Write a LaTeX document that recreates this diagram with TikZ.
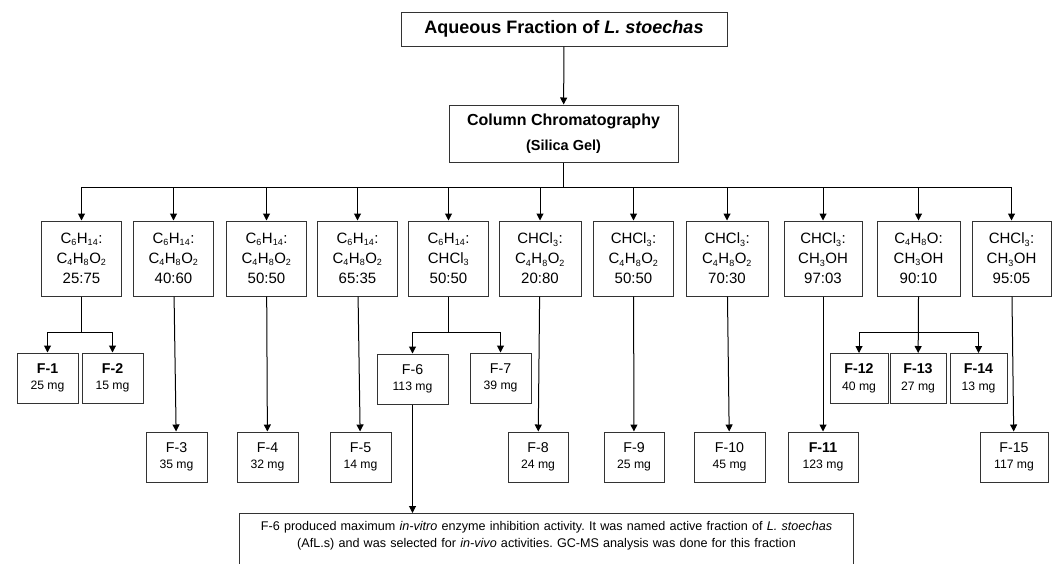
\documentclass[tikz,border=0pt]{standalone}
\usepackage{fontspec}
\setmainfont{Liberation Sans}
\usetikzlibrary{arrows.meta}
\frenchspacing
\newcommand{\chsub}[1]{\textsubscript{\fontsize{9}{9}\selectfont #1}}
\newcommand{\hexane}{C\chsub{6}H\chsub{14}}
\newcommand{\etac}{C\chsub{4}H\chsub{8}O\chsub{2}}
\newcommand{\chcl}{CHCl\chsub{3}}
\newcommand{\meoh}{CH\chsub{3}OH}
\newcommand{\thf}{C\chsub{4}H\chsub{8}O}
\newcommand{\amount}[1]{{\fontsize{12.2}{14}\selectfont #1}}

\begin{document}
\begin{tikzpicture}[x=1pt,y=-1pt,line width=1pt,
  arr/.style={-{Triangle[length=7pt,width=7pt]}},
  box/.style={draw=black!80, align=center, inner sep=2pt},
  solvent/.style={box, minimum width=80pt, minimum height=75pt, font=\fontsize{15}{20}\selectfont},
  frac/.style={box, minimum width=61pt, minimum height=50pt, font=\fontsize{14.2}{16.5}\selectfont}]
\useasboundingbox (0,0) rectangle (1056,563);

\node[box, minimum width=326pt, minimum height=34pt, font=\bfseries\fontsize{18}{20}\selectfont] (aq) at (564,29) {Aqueous Fraction of \textit{L. stoechas}};
\node[box, minimum width=229pt, minimum height=57pt, font=\bfseries\fontsize{16}{25}\selectfont] (cc) at (563.5,133.5) {Column Chromatography\\{\fontsize{14.5}{17}\selectfont (Silica Gel)}};

% solvent systems
\node[solvent] (s1) at (81.5,258.5) {\hexane:\\\etac\\25:75};
\node[solvent] (s2) at (173.5,258.5) {\hexane:\\\etac\\40:60};
\node[solvent] (s3) at (266.5,258.5) {\hexane:\\\etac\\50:50};
\node[solvent] (s4) at (357.5,258.5) {\hexane:\\\etac\\65:35};
\node[solvent] (s5) at (448.5,258.5) {\hexane:\\\chcl\\50:50};
\node[solvent, minimum width=82pt] (s6) at (540,258.5) {\chcl:\\\etac\\20:80};
\node[solvent] (s7) at (633.5,258.5) {\chcl:\\\etac\\50:50};
\node[solvent, minimum width=82pt] (s8) at (727,258.5) {\chcl:\\\etac\\70:30};
\node[solvent, minimum width=78pt] (s9) at (823,258.5) {\chcl:\\\meoh\\97:03};
\node[solvent, minimum width=83pt] (s10) at (918.5,258.5) {\thf:\\\meoh\\90:10};
\node[solvent, minimum width=79pt] (s11) at (1011.5,258.5) {\chcl:\\\meoh\\95:05};

% fractions
\node[frac] (f1) at (47.5,378) {\textbf{F-1}\\\amount{25 mg}};
\node[frac] (f2) at (112.5,378) {\textbf{F-2}\\\amount{15 mg}};
\node[frac] (f3) at (176.5,457) {F-3\\\amount{35 mg}};
\node[frac] (f4) at (267.5,457) {F-4\\\amount{32 mg}};
\node[frac] (f5) at (360.5,457) {F-5\\\amount{14 mg}};
\node[frac, minimum width=71pt] (f6) at (412.5,379) {F-6\\\amount{113 mg}};
\node[frac] (f7) at (500.5,378) {F-7\\\amount{39 mg}};
\node[frac, minimum width=60pt] (f8) at (538,457) {F-8\\\amount{24 mg}};
\node[frac, minimum width=60pt] (f9) at (634,457) {F-9\\\amount{25 mg}};
\node[frac, minimum width=71pt] (f10) at (729.5,457) {F-10\\\amount{45 mg}};
\node[frac, minimum width=70pt] (f11) at (823,457) {\textbf{F-11}\\\amount{123 mg}};
\node[frac, minimum width=58pt] (f12) at (859,378.5) {\textbf{F-12}\\\amount{40 mg}};
\node[frac, minimum width=56pt] (f13) at (918,378.5) {\textbf{F-13}\\\amount{27 mg}};
\node[frac, minimum width=57pt] (f14) at (978.5,378.5) {\textbf{F-14}\\\amount{13 mg}};
\node[frac, minimum width=68pt] (f15) at (1014,457) {F-15\\\amount{117 mg}};

\node[box, anchor=north, text width=610pt, inner ysep=8pt, text depth=30pt, font=\fontsize{12.6}{16.5}\selectfont] (note) at (546.5,513)
  {F-6 produced maximum \textit{in-vitro} enzyme inhibition activity. It was named active fraction of \textit{L. stoechas}\\(AfL.s) and was selected for \textit{in-vivo} activities. GC-MS analysis was done for this fraction};

\draw[arr] (aq) -- (cc);
\coordinate (bus) at (563.5,187);
\draw (cc) -- (bus);
\draw (s1 |- bus) -- (s11 |- bus);
\foreach \i in {1,...,11} \draw[arr] (s\i |- bus) -- (s\i);

\draw[arr] (s1.south) -- ++(0,36) -| (f1);
\draw[arr] (s1.south) -- ++(0,36) -| (f2);
\draw[arr] (s5.south) -- ++(0,36) -| (f6);
\draw[arr] (s5.south) -- ++(0,36) -| (f7);
\draw[arr] (s10.south) -- ++(0,36) -| (f12);
\draw[arr] (s10.south) -- (f13);
\draw[arr] (s10.south) -- ++(0,36) -| (f14);

\draw[arr] (s2) -- (f3);
\draw[arr] (s3) -- (f4);
\draw[arr] (s4) -- (f5);
\draw[arr] (s6) -- (f8);
\draw[arr] (s7) -- (f9);
\draw[arr] (s8) -- (f10);
\draw[arr] (s9) -- (f11);
\draw[arr] (s11) -- (f15);
\draw[arr] (f6.south) -- (f6.south |- note.north);
\end{tikzpicture}
\end{document}
